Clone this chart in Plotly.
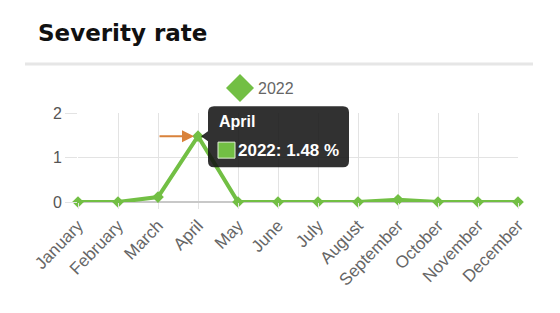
import plotly.graph_objects as go

months = ["January", "February", "March", "April", "May", "June", "July",
          "August", "September", "October", "November", "December"]
values_2022 = [0, 0, 0.11, 1.48, 0, 0, 0, 0, 0.05, 0, 0, 0]
series_name = "2022"
y_ticks = [0, 1, 2]
y_range = [0, 2]
title_text = "Severity rate"

GREEN = "#72bf44"
W, H = 560, 313
L, R, T, B = 78, 42, 113, 111
pw, ph = W - L - R, H - T - B

def px(x):
    return (x - L) / pw

def py(y):
    return (H - B - y) / ph

fig = go.Figure()
fig.add_trace(go.Scatter(
    x=months, y=values_2022, mode="lines+markers", name=series_name,
    line=dict(color=GREEN, width=4),
    marker=dict(symbol="diamond", size=9, color=GREEN),
    showlegend=False, hoverinfo="skip", cliponaxis=False,
))

peak = max(range(len(values_2022)), key=lambda i: values_2022[i])
pk_x, pk_y = months[peak], values_2022[peak]
# pixel location of the peak point, derived from the axis mapping
ppx = L + peak / (len(months) - 1) * pw
ppy = (H - B) - (pk_y - y_range[0]) / (y_range[1] - y_range[0]) * ph

def P(x, y):
    return f"{px(x)},{py(y)}"

# tooltip box in pixel offsets from the peak (screen y down)
r = 6
bx0, bx1 = ppx + 10, ppx + 151
by0, by1 = ppy - 30, ppy + 31
path = (f"M {P(bx0+r, by0)} L {P(bx1-r, by0)} Q {P(bx1, by0)} {P(bx1, by0+r)} "
        f"L {P(bx1, by1-r)} Q {P(bx1, by1)} {P(bx1-r, by1)} L {P(bx0+r, by1)} "
        f"Q {P(bx0, by1)} {P(bx0, by1-r)} L {P(bx0, ppy+5)} L {P(ppx+3, ppy)} "
        f"L {P(bx0, ppy-5)} L {P(bx0, by0+r)} Q {P(bx0, by0)} {P(bx0+r, by0)} Z")

shapes = [
    dict(type="path", xref="paper", yref="paper", path=path,
         fillcolor="rgba(20,20,20,0.88)", line=dict(width=0), layer="above"),
    dict(type="rect", xref="paper", yref="paper",
         x0=px(ppx + 20), x1=px(ppx + 37), y0=py(ppy + 22), y1=py(ppy + 6),
         fillcolor=GREEN, line=dict(color="#dff0d5", width=1), layer="above"),
    dict(type="line", xref="paper", yref="paper", x0=px(25), x1=px(533),
         y0=py(64), y1=py(64), line=dict(color="#e6e6e6", width=3)),
    # legend diamond
    dict(type="path", xref="paper", yref="paper",
         path=f"M {P(240, 74)} L {P(254, 88)} L {P(240, 102)} L {P(226, 88)} Z",
         fillcolor=GREEN, line=dict(width=0)),
]

annotations = [
    dict(x=px(ppx + 19), y=py(ppy - 15), xref="paper", yref="paper",
         text=f"<b>{pk_x}</b>", showarrow=False, xanchor="left", yanchor="middle",
         font=dict(family="Arial", size=16, color="white")),
    dict(x=px(ppx + 38), y=py(ppy + 14), xref="paper", yref="paper",
         text=f"<b>{series_name}: {pk_y:.2f} %</b>",
         showarrow=False, xanchor="left", yanchor="middle",
         font=dict(family="Arial", size=17, color="white")),
    dict(x=peak, y=pk_y, xref="x", yref="y", text="", showarrow=True,
         ax=-40, ay=0, arrowcolor="#d9823b", arrowhead=2, arrowsize=1.2,
         arrowwidth=2, standoff=4),
    dict(x=px(256), y=py(88), xref="paper", yref="paper", text=series_name,
         showarrow=False, xanchor="left", yanchor="middle",
         font=dict(family="Arial", size=16, color="#666")),
]

fig.update_layout(
    width=W, height=H, margin=dict(l=L, r=R, t=T, b=B),
    paper_bgcolor="white", plot_bgcolor="white",
    title=dict(text=f"<b>{title_text}</b>", x=38 / W, xanchor="left",
               y=1 - 33 / H, yanchor="middle", xref="container", yref="container",
               font=dict(family="DejaVu Sans", size=23, color="#111")),
    shapes=shapes, annotations=annotations, showlegend=False,
    xaxis=dict(type="category", range=[0, len(months) - 1], showgrid=True,
               gridcolor="#e3e3e3", gridwidth=1, tickangle=-46,
               tickfont=dict(family="Arial", size=17, color="#666"),
               ticks="outside", ticklen=6, tickcolor="#e3e3e3",
               showline=False, zeroline=False),
    yaxis=dict(range=y_range, tickvals=y_ticks, showgrid=True, gridcolor="#e3e3e3",
               ticks="outside", ticklen=12, tickcolor="#e3e3e3",
               tickfont=dict(family="Arial", size=16, color="#555"),
               zeroline=True, zerolinecolor="#c8c8c8", zerolinewidth=2,
               showline=False),
)

fig.write_html("out.html")
